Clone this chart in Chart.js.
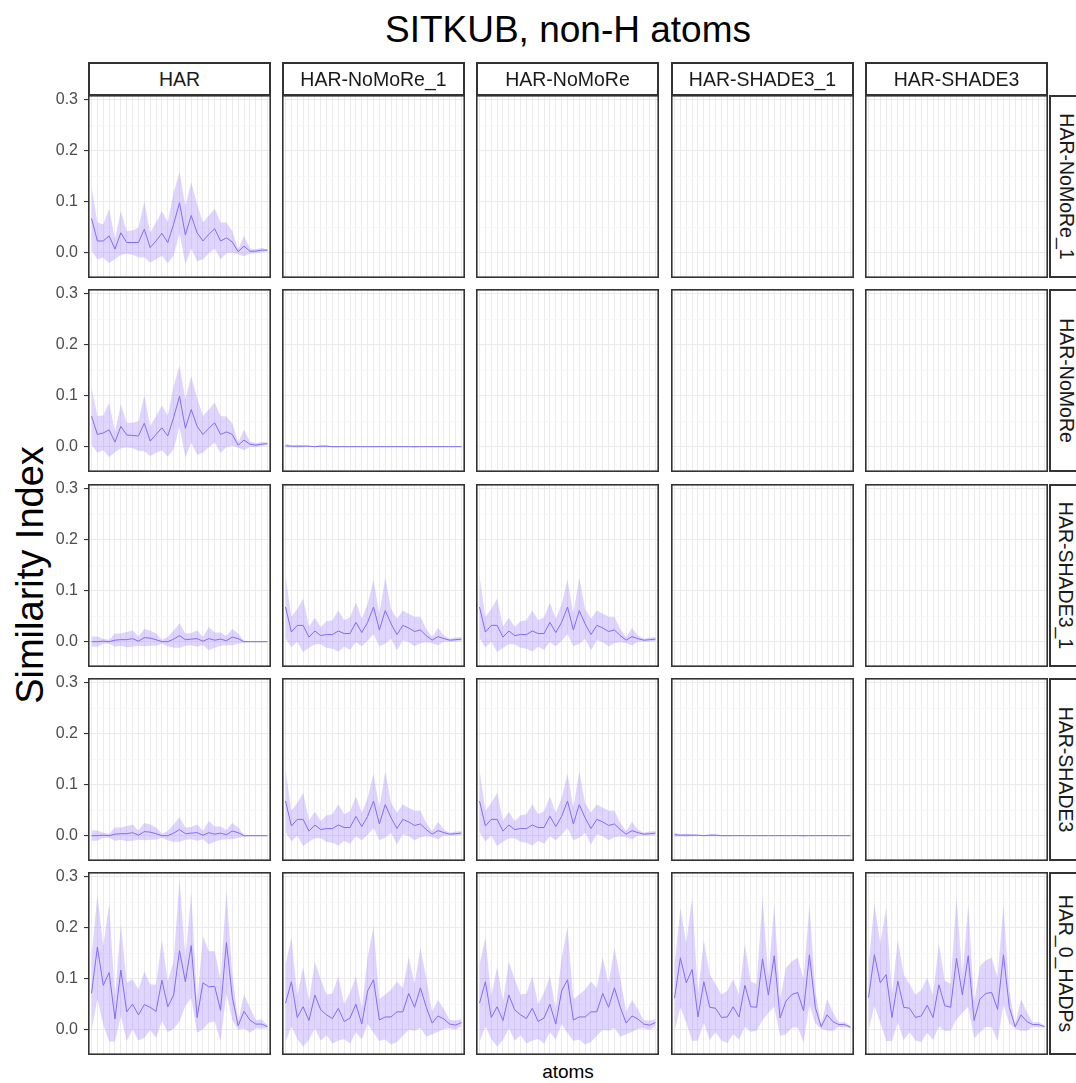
<!DOCTYPE html>
<html>
<head>
<meta charset="utf-8">
<title>SITKUB, non-H atoms</title>
<script src="https://cdn.jsdelivr.net/npm/chart.js@4.4.0/dist/chart.umd.min.js"></script>
<style>
  body { margin: 0; background: #fff; font-family: "Liberation Sans", Arial, sans-serif; }
  #page { position: relative; width: 1076px; height: 1083px; overflow: hidden; background: #fff; }
  .panel { position: absolute; }
  .strip {
    position: absolute; box-sizing: border-box; border: 2px solid #333; background: #fff;
    color: #1a1a1a; font-size: 19.5px; display: flex; align-items: center; justify-content: center;
    white-space: nowrap; z-index: 2;
  }
  .strip-r span { transform: rotate(90deg); }
  .title { position: absolute; left: 88px; width: 960px; top: 11px; text-align: center; font-size: 37px; line-height: 37px; color: #000; }
  .ytitle { position: absolute; left: -170px; top: 555px; width: 400px; text-align: center; font-size: 38px; line-height: 40px; transform: rotate(-90deg); color: #000; }
  .xtitle { position: absolute; left: 88px; width: 960px; top: 1062px; text-align: center; font-size: 19px; line-height: 19px; color: #000; }
</style>
</head>
<body>
<div id="page">
  <div class="title">SITKUB, non-H atoms</div>
  <div class="ytitle">Similarity Index</div>
  <div class="xtitle">atoms</div>
</div>
<script>
const atomIndex = [0, 1, 2, 3, 4, 5, 6, 7, 8, 9, 10, 11, 12, 13, 14, 15, 16, 17, 18, 19, 20, 21, 22, 23, 24, 25, 26, 27, 28, 29, 30];

const colLabels = ['HAR', 'HAR-NoMoRe_1', 'HAR-NoMoRe', 'HAR-SHADE3_1', 'HAR-SHADE3'];
const rowLabels = ['HAR-NoMoRe_1', 'HAR-NoMoRe', 'HAR-SHADE3_1', 'HAR-SHADE3', 'HAR_0_HADPs'];
const yTickLabels = [0.0, 0.1, 0.2, 0.3];

// mean similarity index per atom, and its spread (ribbon = mean +/- sd)
const harNomore1Mean = [0.067, 0.023, 0.023, 0.033, 0.007, 0.039, 0.020, 0.020, 0.020, 0.046, 0.010, 0.023, 0.038, 0.020, 0.056, 0.098, 0.035, 0.073, 0.039, 0.023, 0.036, 0.047, 0.023, 0.029, 0.021, 0.002, 0.013, 0.003, 0.003, 0.005, 0.005];
const harNomore1Sd   = [0.063, 0.036, 0.033, 0.053, 0.020, 0.043, 0.022, 0.024, 0.029, 0.055, 0.029, 0.036, 0.044, 0.040, 0.062, 0.060, 0.057, 0.065, 0.056, 0.036, 0.037, 0.039, 0.036, 0.030, 0.021, 0.005, 0.020, 0.005, 0.004, 0.004, 0.002];

const harNomoreMean = [0.060, 0.024, 0.027, 0.033, 0.009, 0.040, 0.023, 0.022, 0.021, 0.046, 0.011, 0.024, 0.037, 0.021, 0.057, 0.099, 0.036, 0.073, 0.040, 0.024, 0.036, 0.047, 0.024, 0.029, 0.024, 0.003, 0.013, 0.005, 0.003, 0.005, 0.006];
const harNomoreSd   = [0.056, 0.036, 0.034, 0.053, 0.020, 0.043, 0.024, 0.025, 0.029, 0.055, 0.029, 0.036, 0.044, 0.040, 0.062, 0.060, 0.057, 0.065, 0.056, 0.036, 0.037, 0.039, 0.036, 0.030, 0.022, 0.005, 0.020, 0.005, 0.004, 0.004, 0.002];

const nomorePairMean = [0.002, 0.001, 0.001, 0.001, 0.001, 0.000, 0.001, 0.001, 0.000, 0.000, 0.000, 0.000, 0.000, 0.000, 0.000, 0.000, 0.000, 0.000, 0.000, 0.000, 0.000, 0.000, 0.000, 0.000, 0.000, 0.000, 0.000, 0.000, 0.000, 0.000, 0.000];
const nomorePairSd   = [0.004, 0.002, 0.003, 0.002, 0.001, 0.001, 0.002, 0.002, 0.001, 0.001, 0.000, 0.000, 0.000, 0.000, 0.000, 0.001, 0.000, 0.000, 0.000, 0.000, 0.000, 0.000, 0.002, 0.000, 0.000, 0.000, 0.000, 0.000, 0.000, 0.000, 0.000];

const harShadeMean = [0.000, 0.000, 0.001, 0.000, 0.003, 0.004, 0.004, 0.006, 0.001, 0.008, 0.007, 0.004, 0.000, 0.000, 0.005, 0.012, 0.004, 0.005, 0.006, 0.001, 0.006, 0.003, 0.005, 0.002, 0.009, 0.006, 0.000, 0.000, 0.000, 0.000, 0.000];
const harShadeSd   = [0.010, 0.010, 0.005, 0.004, 0.013, 0.012, 0.015, 0.016, 0.009, 0.017, 0.015, 0.012, 0.004, 0.009, 0.017, 0.024, 0.012, 0.012, 0.016, 0.008, 0.023, 0.015, 0.013, 0.009, 0.016, 0.010, 0.002, 0.001, 0.001, 0.001, 0.001];

const nomoreShadeMean = [0.068, 0.019, 0.032, 0.032, 0.009, 0.021, 0.012, 0.014, 0.014, 0.021, 0.016, 0.016, 0.038, 0.018, 0.038, 0.068, 0.023, 0.061, 0.035, 0.014, 0.032, 0.027, 0.020, 0.023, 0.012, 0.003, 0.010, 0.006, 0.003, 0.004, 0.005];
const nomoreShadeSd   = [0.061, 0.030, 0.032, 0.052, 0.021, 0.026, 0.017, 0.026, 0.028, 0.040, 0.026, 0.032, 0.039, 0.027, 0.036, 0.053, 0.032, 0.065, 0.029, 0.031, 0.029, 0.028, 0.029, 0.026, 0.013, 0.006, 0.017, 0.006, 0.003, 0.004, 0.004];

const hadpHarMean = [0.071, 0.162, 0.087, 0.112, 0.021, 0.117, 0.035, 0.050, 0.029, 0.049, 0.044, 0.036, 0.097, 0.045, 0.068, 0.155, 0.094, 0.165, 0.024, 0.092, 0.084, 0.085, 0.038, 0.171, 0.064, 0.008, 0.036, 0.019, 0.011, 0.011, 0.006];
const hadpHarSd   = [0.073, 0.102, 0.077, 0.135, 0.044, 0.090, 0.057, 0.049, 0.050, 0.065, 0.045, 0.052, 0.080, 0.050, 0.066, 0.139, 0.047, 0.103, 0.030, 0.091, 0.070, 0.069, 0.060, 0.100, 0.045, 0.008, 0.033, 0.025, 0.008, 0.009, 0.003];

const hadpNomoreMean = [0.052, 0.094, 0.024, 0.045, 0.018, 0.068, 0.039, 0.029, 0.022, 0.042, 0.016, 0.023, 0.050, 0.011, 0.076, 0.098, 0.019, 0.025, 0.025, 0.035, 0.035, 0.071, 0.044, 0.082, 0.044, 0.013, 0.027, 0.021, 0.011, 0.009, 0.014];
const hadpNomoreSd   = [0.076, 0.087, 0.042, 0.078, 0.038, 0.065, 0.060, 0.040, 0.049, 0.063, 0.034, 0.050, 0.055, 0.030, 0.065, 0.104, 0.041, 0.044, 0.054, 0.059, 0.047, 0.071, 0.046, 0.078, 0.058, 0.022, 0.031, 0.019, 0.008, 0.009, 0.007];

const hadpShade1Mean = [0.062, 0.141, 0.092, 0.118, 0.025, 0.094, 0.044, 0.042, 0.024, 0.025, 0.045, 0.025, 0.087, 0.045, 0.044, 0.139, 0.068, 0.145, 0.023, 0.056, 0.069, 0.073, 0.037, 0.147, 0.044, 0.006, 0.029, 0.016, 0.010, 0.010, 0.005];
const hadpShade1Sd   = [0.064, 0.097, 0.078, 0.140, 0.046, 0.081, 0.064, 0.047, 0.045, 0.051, 0.054, 0.044, 0.081, 0.049, 0.046, 0.120, 0.035, 0.100, 0.035, 0.065, 0.065, 0.068, 0.062, 0.098, 0.032, 0.004, 0.031, 0.018, 0.004, 0.005, 0.002];

const hadpShadeMean = [0.063, 0.147, 0.092, 0.108, 0.024, 0.095, 0.044, 0.042, 0.024, 0.027, 0.048, 0.024, 0.088, 0.047, 0.044, 0.140, 0.068, 0.145, 0.018, 0.060, 0.071, 0.073, 0.040, 0.147, 0.044, 0.006, 0.029, 0.016, 0.010, 0.010, 0.006];
const hadpShadeSd   = [0.064, 0.100, 0.078, 0.130, 0.046, 0.081, 0.064, 0.047, 0.045, 0.051, 0.054, 0.044, 0.081, 0.049, 0.046, 0.120, 0.035, 0.100, 0.035, 0.065, 0.065, 0.068, 0.062, 0.098, 0.032, 0.004, 0.031, 0.018, 0.004, 0.005, 0.002];

// which series goes in which facet (row = rowLabels, col = colLabels)
const facets = [
    [[harNomore1Mean, harNomore1Sd], null, null, null, null],
    [[harNomoreMean, harNomoreSd], [nomorePairMean, nomorePairSd], null, null, null],
    [[harShadeMean, harShadeSd], [nomoreShadeMean, nomoreShadeSd], [nomoreShadeMean, nomoreShadeSd], null, null],
    [[harShadeMean, harShadeSd], [nomoreShadeMean, nomoreShadeSd], [nomoreShadeMean, nomoreShadeSd], [nomorePairMean, nomorePairSd], null],
    [[hadpHarMean, hadpHarSd], [hadpNomoreMean, hadpNomoreSd], [hadpNomoreMean, hadpNomoreSd], [hadpShade1Mean, hadpShade1Sd], [hadpShadeMean, hadpShadeSd]]
];

const yMin = -0.0496;
const yMax = 0.3092;

const panelLeft = [88, 282, 476, 671, 865];
const panelTop = [95, 289, 484, 678, 872];
const panelSize = 183;
const axisWidth = 48;
const pad = 10;

const fontFamily = '"Liberation Sans", Arial, sans-serif';
const lineColor = '#7b68ee';
const ribbonColor = 'rgba(148, 115, 255, 0.3)';

const isMajor = v => yTickLabels.some(t => Math.abs(t - v) < 1e-6);

const panelBorder = {
    id: 'panelBorder',
    afterDraw(chart) {
        const {ctx, chartArea: a} = chart;
        ctx.save();
        ctx.strokeStyle = '#333333';
        ctx.lineWidth = 1.6;
        ctx.strokeRect(a.left + 0.8, a.top + 0.8, a.right - a.left - 1.6, a.bottom - a.top - 1.6);
        ctx.restore();
    }
};

const page = document.getElementById('page');

const makeStrip = (cls, left, top, w, h, text) => {
    let div = document.createElement('div');
    div.className = 'strip ' + cls;
    div.style.left = left + 'px';
    div.style.top = top + 'px';
    div.style.width = w + 'px';
    div.style.height = h + 'px';
    let span = document.createElement('span');
    span.textContent = text;
    div.appendChild(span);
    page.appendChild(div);
};

colLabels.forEach((label, c) => makeStrip('strip-c', panelLeft[c], 62, panelSize, 34, label));
rowLabels.forEach((label, r) => makeStrip('strip-r', 1049, panelTop[r], 34, panelSize, label));

const makePanel = (r, c) => {
    const first = c === 0;
    const extra = first ? axisWidth : 0;
    const canvas = document.createElement('canvas');
    canvas.className = 'panel';
    canvas.width = panelSize + extra;
    canvas.height = panelSize + 2 * pad;
    canvas.style.left = (panelLeft[c] - extra) + 'px';
    canvas.style.top = (panelTop[r] - pad) + 'px';
    page.appendChild(canvas);

    let datasets = [];
    const series = facets[r][c];
    if (series) {
        const [mean, sd] = series;
        const lo = atomIndex.map((x, i) => ({x: x, y: mean[i] - sd[i]}));
        const hi = atomIndex.map((x, i) => ({x: x, y: mean[i] + sd[i]}));
        const mid = atomIndex.map((x, i) => ({x: x, y: mean[i]}));
        datasets = [
            {data: lo, borderWidth: 0, pointRadius: 0, fill: false},
            {data: hi, borderWidth: 0, pointRadius: 0, fill: '-1', backgroundColor: ribbonColor},
            {data: mid, borderColor: lineColor, borderWidth: 1, pointRadius: 0, fill: false}
        ];
    }

    new Chart(canvas, {
        type: 'line',
        data: {datasets: datasets},
        options: {
            responsive: false,
            animation: false,
            events: [],
            layout: {padding: {top: pad, bottom: pad, left: 0, right: 0}},
            plugins: {legend: {display: false}, tooltip: {enabled: false}},
            scales: {
                x: {
                    type: 'linear', min: -0.6, max: 30.6,
                    afterFit: s => { s.height = 0; s.paddingLeft = 0; s.paddingRight = 0; },
                    border: {display: false},
                    grid: {color: '#ebebeb', lineWidth: 1, drawTicks: false},
                    ticks: {display: false, stepSize: 1, includeBounds: false, autoSkip: false}
                },
                y: {
                    type: 'linear', min: yMin, max: yMax,
                    afterFit: s => { s.width = extra; s.paddingTop = 0; s.paddingBottom = 0; },
                    border: {display: false},
                    grid: {
                        color: ctx => isMajor(ctx.tick.value) ? '#ebebeb' : '#f5f5f5',
                        lineWidth: ctx => isMajor(ctx.tick.value) ? 1.1 : 0.7,
                        drawTicks: first,
                        tickLength: 4,
                        tickWidth: 1.1,
                        tickColor: ctx => isMajor(ctx.tick.value) ? '#333333' : 'rgba(0,0,0,0)'
                    },
                    ticks: {
                        display: first, stepSize: 0.05, includeBounds: false, autoSkip: false,
                        padding: 6, color: '#4d4d4d', font: {family: fontFamily, size: 16},
                        callback: v => isMajor(v) ? v.toFixed(1) : ''
                    }
                }
            }
        },
        plugins: [panelBorder]
    });
};

rowLabels.forEach((_, r) => {
    colLabels.forEach((_, c) => makePanel(r, c));
});
</script>
</body>
</html>
